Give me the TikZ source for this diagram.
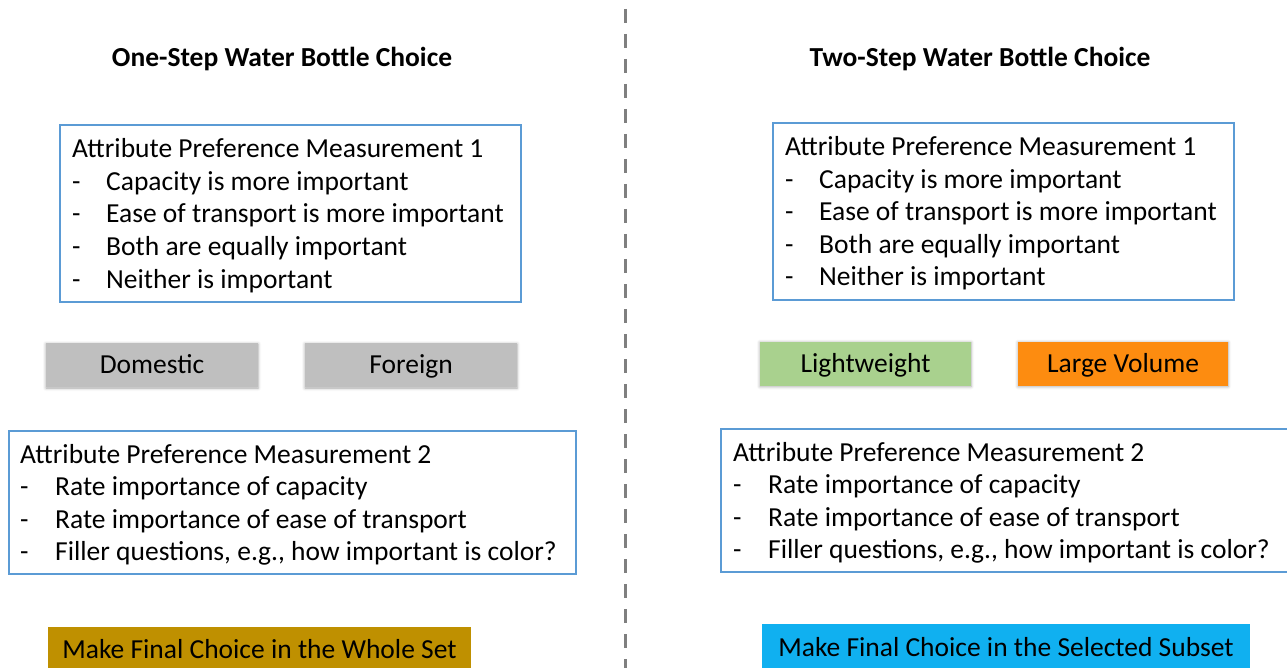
\documentclass[tikz,border=0pt]{standalone}
\usepackage{fontspec}
\setmainfont{Carlito}
\usetikzlibrary{shadows.blur}

\definecolor{frameblue}{HTML}{5B9BD5}
\definecolor{chipgray}{HTML}{BFBFBF}
\definecolor{chipgreen}{HTML}{A9D18E}
\definecolor{chiporange}{HTML}{FD8C10}
\definecolor{choicegold}{HTML}{BF9000}
\definecolor{choiceblue}{HTML}{10B0F0}
\definecolor{dividergray}{HTML}{7F7F7F}

\newcommand{\bodyfont}{\fontsize{27.5}{33}\selectfont}
\newcommand{\headfont}{\fontsize{27.5}{33}\selectfont\bfseries}

\tikzset{
  panel/.style={draw=frameblue, line width=1.3pt, fill=white, inner sep=0pt},
  entry/.style={anchor=base west, inner sep=0pt, font=\bodyfont},
  heading/.style={anchor=base, inner sep=0pt, font=\headfont},
  chip/.style={inner sep=0pt, font=\bodyfont, text height=17.7pt, text depth=0pt,
    minimum height=44pt,
    blur shadow={shadow xshift=0pt, shadow yshift=-1pt, shadow blur radius=3pt, shadow opacity=35}},
  choice/.style={inner sep=0pt, font=\bodyfont, text height=17.7pt, text depth=0pt},
  divider/.style={draw=dividergray, line width=3pt, dash pattern=on 14pt off 11pt}
}

\begin{document}
\begin{tikzpicture}[x=1pt,y=-1pt]
\useasboundingbox (0,0) rectangle (1287,668);

% vertical divider between the two conditions
\coordinate (divTop) at (625,9);
\coordinate (divBot) at (625,675);
\draw[divider] (divTop) -- (divBot);

% ---------- left: one-step choice ----------
\node[heading] (headL) at (282,67) {One-Step Water Bottle Choice};

\node[panel, minimum width=461pt, minimum height=177pt] (m1L) at (290.5,213.5) {};
\node[entry] (m1Lt) at (72,158) {Attribute Preference Measurement 1};
\node[entry] (m1La) at (72,190.5) {-};
\node[entry] (m1La2) at (106,190.5) {Capacity is more important};
\node[entry] (m1Lb) at (72,223) {-};
\node[entry] (m1Lb2) at (106,223) {Ease of transport is more important};
\node[entry] (m1Lc) at (72,255.5) {-};
\node[entry] (m1Lc2) at (106,255.5) {Both are equally important};
\node[entry] (m1Ld) at (72,288) {-};
\node[entry] (m1Ld2) at (106,288) {Neither is important};

\node[chip, fill=chipgray, minimum width=212pt] (domestic) at (152,365) {Domestic};
\node[chip, fill=chipgray, minimum width=212pt] (foreign) at (411,365) {Foreign};

\node[panel, minimum width=567pt, minimum height=143pt] (m2L) at (292.5,502.5) {};
\node[entry] (m2Lt) at (20,463) {Attribute Preference Measurement 2};
\node[entry] (m2La) at (20,495.5) {-};
\node[entry] (m2La2) at (55,495.5) {Rate importance of capacity};
\node[entry] (m2Lb) at (20,528) {-};
\node[entry] (m2Lb2) at (55,528) {Rate importance of ease of transport};
\node[entry] (m2Lc) at (20,560.5) {-};
\node[entry] (m2Lc2) at (55,560.5) {Filler questions, e.g., how important is color?};

\node[choice, fill=choicegold, minimum width=423pt, minimum height=46pt] (finalL) at (259.5,650) {Make Final Choice in the Whole Set};

% ---------- right: two-step choice ----------
\node[heading] (headR) at (980,67) {Two-Step Water Bottle Choice};

\node[panel, minimum width=461pt, minimum height=177pt] (m1R) at (1003.5,211.5) {};
\node[entry] (m1Rt) at (785,156) {Attribute Preference Measurement 1};
\node[entry] (m1Ra) at (785,188.5) {-};
\node[entry] (m1Ra2) at (819,188.5) {Capacity is more important};
\node[entry] (m1Rb) at (785,221) {-};
\node[entry] (m1Rb2) at (819,221) {Ease of transport is more important};
\node[entry] (m1Rc) at (785,253.5) {-};
\node[entry] (m1Rc2) at (819,253.5) {Both are equally important};
\node[entry] (m1Rd) at (785,286) {-};
\node[entry] (m1Rd2) at (819,286) {Neither is important};

\node[chip, fill=chipgreen, minimum width=211pt] (light) at (865.5,363.5) {Lightweight};
\node[chip, fill=chiporange, minimum width=210pt] (large) at (1123,363.5) {Large Volume};

\node[panel, minimum width=570pt, minimum height=143pt] (m2R) at (1006,500.5) {};
\node[entry] (m2Rt) at (733,461) {Attribute Preference Measurement 2};
\node[entry] (m2Ra) at (733,493.5) {-};
\node[entry] (m2Ra2) at (768,493.5) {Rate importance of capacity};
\node[entry] (m2Rb) at (733,526) {-};
\node[entry] (m2Rb2) at (768,526) {Rate importance of ease of transport};
\node[entry] (m2Rc) at (733,558.5) {-};
\node[entry] (m2Rc2) at (768,558.5) {Filler questions, e.g., how important is color?};

\node[choice, fill=choiceblue, minimum width=488pt, minimum height=48pt] (finalR) at (1006,648) {Make Final Choice in the Selected Subset};

\end{tikzpicture}
\end{document}
